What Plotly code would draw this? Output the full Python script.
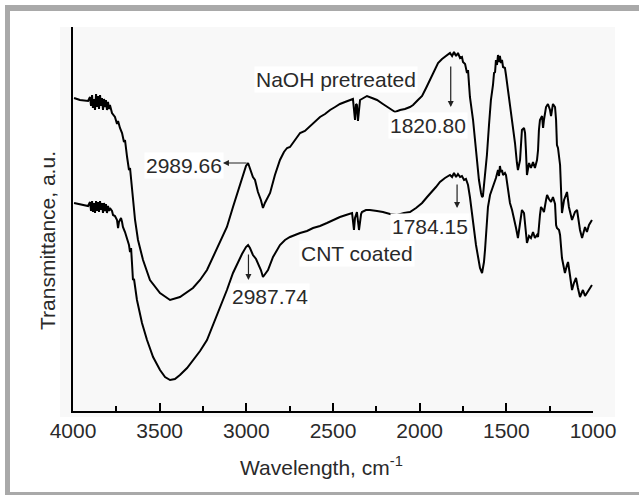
import plotly.graph_objects as go

W, H = 639, 495

# ---------------- data (wavenumber cm-1, transmittance a.u.) ----------------
naoh_wn = [3994, 3960, 3913, 3902, 3896, 3890, 3885, 3879, 3873, 3867, 3862, 3856, 3850,
           3844, 3838, 3833, 3827, 3821, 3815, 3810, 3804, 3798, 3792, 3787,
           3775, 3758, 3746, 3740, 3729, 3717, 3706, 3700, 3688, 3677, 3671, 3665, 3654,
           3642, 3625, 3596, 3556, 3498, 3440, 3383, 3308, 3267, 3227, 3192, 3152, 3112,
           3077, 3054, 3025, 3002, 2990, 2979, 2962, 2950, 2933, 2916, 2904, 2893, 2875,
           2863, 2835, 2806, 2783, 2765, 2748, 2731, 2708, 2690, 2662, 2633, 2615, 2575,
           2546, 2517, 2488, 2460, 2431, 2402, 2385, 2373, 2367, 2362, 2356, 2344, 2327,
           2304, 2275, 2246, 2212, 2188, 2165, 2142, 2113, 2085, 2056, 2038, 2010, 1986,
           1963, 1940, 1917, 1894, 1871, 1842, 1825, 1813, 1802, 1790, 1779, 1767, 1756,
           1750, 1738, 1727, 1721, 1715, 1710, 1692, 1681, 1669, 1658, 1646, 1640, 1635,
           1623, 1612, 1600, 1589, 1577, 1571, 1565, 1560, 1554, 1548, 1542, 1537, 1531,
           1525, 1519, 1508, 1502, 1490, 1479, 1467, 1462, 1450, 1439, 1433, 1421, 1415,
           1410, 1398, 1392, 1387, 1381, 1369, 1358, 1346, 1335, 1323, 1317, 1312, 1306,
           1294, 1288, 1283, 1271, 1260, 1248, 1242, 1231, 1219, 1213, 1208, 1202, 1190,
           1185, 1179, 1167, 1150, 1139, 1121, 1104, 1092, 1075, 1063, 1046, 1035, 1023,
           1006]
naoh_t = [313, 311, 310, 314, 305, 316, 303, 312, 301, 317, 304, 315, 302,
          316, 305, 313, 301, 312, 304, 311, 301, 309, 302, 306,
          298, 294, 287, 290, 283, 278, 269, 271, 254, 241, 243, 231, 211,
          191, 171, 151, 131, 118, 111, 114, 123, 131, 141, 154, 168, 184,
          204, 216, 233, 245, 248, 243, 234, 231, 219, 211, 203, 208, 214,
          218, 236, 251, 259, 263, 264, 268, 273, 278, 280, 285, 288, 294,
          297, 301, 304, 307, 309, 311, 312, 291, 307, 306, 290, 311, 313,
          315, 313, 311, 307, 304, 301, 299, 301, 302, 304, 306, 311, 315,
          323, 331, 340, 348, 352, 356, 358, 355, 359, 355, 358, 353, 354,
          349, 347, 338, 341, 326, 314, 291, 271, 254, 231, 218, 214, 215,
          233, 256, 286, 311, 326, 338, 339, 351, 346, 356, 349, 355, 348,
          351, 344, 343, 336, 321, 306, 294, 286, 268, 248, 241, 251, 271,
          281, 283, 278, 261, 236, 248, 243, 249, 243, 251, 261, 281, 291,
          295, 283, 291, 304, 307, 301, 295, 307, 304, 291, 266, 263, 246,
          228, 198, 211, 219, 204, 191, 199, 201, 181, 173, 184, 179, 186,
          191]

cnt_wn = [3994, 3960, 3913, 3902, 3896, 3890, 3885, 3879, 3873, 3867, 3862, 3856, 3850,
          3844, 3838, 3833, 3827, 3821, 3815, 3810, 3804, 3798, 3792, 3787,
          3775, 3769, 3758, 3746, 3740, 3735, 3723, 3717, 3712, 3700, 3688, 3677, 3671,
          3665, 3660, 3654, 3648, 3631, 3602, 3573, 3538, 3498, 3469, 3440, 3412, 3383,
          3342, 3308, 3267, 3227, 3192, 3152, 3112, 3077, 3048, 3025, 3002, 2990, 2979,
          2962, 2944, 2933, 2916, 2904, 2893, 2875, 2846, 2823, 2806, 2777, 2748, 2690,
          2650, 2615, 2575, 2535, 2500, 2460, 2425, 2390, 2379, 2373, 2362, 2350, 2338,
          2333, 2310, 2287, 2246, 2212, 2171, 2131, 2090, 2056, 2021, 1986, 1957, 1929,
          1906, 1883, 1854, 1825, 1813, 1802, 1790, 1779, 1767, 1756, 1744, 1733, 1721,
          1710, 1692, 1675, 1663, 1652, 1640, 1629, 1623, 1612, 1606, 1594, 1583, 1571,
          1565, 1560, 1554, 1548, 1542, 1537, 1531, 1525, 1519, 1508, 1502, 1490, 1479,
          1467, 1456, 1444, 1433, 1421, 1410, 1398, 1387, 1381, 1369, 1358, 1346, 1335,
          1323, 1317, 1306, 1300, 1288, 1283, 1271, 1265, 1254, 1242, 1231, 1219, 1213,
          1208, 1196, 1190, 1179, 1173, 1162, 1150, 1144, 1133, 1121, 1110, 1098, 1087,
          1075, 1063, 1058, 1046, 1035, 1023, 1012, 1006]
cnt_t = [208, 207, 205, 209, 200, 210, 199, 208, 198, 210, 200, 209, 199,
         210, 201, 208, 198, 208, 200, 207, 198, 205, 200, 203,
         200, 196, 195, 191, 183, 189, 193, 189, 184, 179, 173, 166, 159,
         163, 149, 131, 132, 111, 88, 71, 54, 41, 34, 31, 32, 36,
         43, 51, 60, 71, 86, 103, 121, 138, 149, 157, 164, 166, 163,
         156, 152, 148, 141, 134, 137, 141, 154, 161, 166, 171, 174, 178,
         180, 183, 185, 188, 191, 194, 196, 198, 181, 193, 199, 181, 197,
         199, 201, 201, 200, 199, 197, 196, 198, 199, 203, 208, 214, 219,
         224, 229, 233, 236, 234, 238, 234, 237, 234, 235, 231, 232, 226,
         214, 188, 166, 154, 143, 138, 149, 161, 186, 204, 216, 221, 226,
         229, 233, 237, 241, 235, 245, 239, 241, 236, 238, 236, 218, 208,
         201, 193, 183, 173, 189, 201, 198, 179, 168, 175, 173, 179, 173,
         176, 174, 196, 204, 201, 199, 211, 216, 212, 209, 214, 207, 186,
         183, 181, 176, 153, 146, 138, 146, 149, 136, 121, 128, 133, 123,
         114, 119, 121, 115, 118, 121, 124, 126]

x_ticks = [4000, 3500, 3000, 2500, 2000, 1500, 1000]
x_range = [4000, 1000]
y_range = [0, 384]

# labelled peaks
peak_labels = ["2989.66", "2987.74", "1820.80", "1784.15"]
series_names = ["NaOH pretreated", "CNT coated"]

FONT = "Liberation Sans, Arial, sans-serif"
TXT = "#2a2a2a"
FS = 21


def px(x):
    return x / W


def py(y):
    return 1 - y / H


fig = go.Figure()
fig.add_trace(go.Scatter(x=naoh_wn, y=naoh_t, mode="lines", name=series_names[0],
                         line=dict(color="black", width=2), showlegend=False))
fig.add_trace(go.Scatter(x=cnt_wn, y=cnt_t, mode="lines", name=series_names[1],
                         line=dict(color="black", width=2), showlegend=False))

fig.update_layout(
    width=W, height=H, autosize=False,
    margin=dict(l=0, r=0, t=0, b=0, pad=0),
    paper_bgcolor="white",
    plot_bgcolor="rgba(0,0,0,0)",
    showlegend=False,
    font=dict(family=FONT, size=FS, color=TXT),
    xaxis=dict(domain=[px(73), px(593)], range=x_range, tickvals=x_ticks,
               ticktext=[str(v) for v in x_ticks], automargin=False,
               showline=True, linecolor="black", linewidth=2,
               ticks="inside", ticklen=8, tickwidth=2, tickcolor="black",
               minor=dict(ticks="inside", ticklen=5, tickwidth=2, tickcolor="black",
                          dtick=250, showgrid=False),
               showgrid=False, zeroline=False,
               tickfont=dict(size=FS, color=TXT, family=FONT), ticklabelstandoff=0),
    yaxis=dict(domain=[py(411), py(27)], range=y_range, showline=True, automargin=False,
               linecolor="black", linewidth=2, showticklabels=False, ticks="",
               showgrid=False, zeroline=False),
)

# background panel and gray frame
fig.add_shape(type="rect", xref="paper", yref="paper", x0=px(60), x1=px(615),
              y0=py(417), y1=py(27), fillcolor="#f8f8f8", line=dict(width=0),
              layer="below")
for (x0, x1, y0, y1) in [(5, W, 5, 11), (5, 10, 5, H), (5, W, 492, H)]:
    fig.add_shape(type="rect", xref="paper", yref="paper", x0=px(x0), x1=px(x1),
                  y0=py(y1), y1=py(y0), fillcolor="#a9a9a9", line=dict(width=0),
                  layer="above")

ann = []
# axis titles
ann.append(dict(text="Wavelength, cm<sup>-1</sup>", xref="paper", yref="paper",
                x=px(322), y=py(466), xanchor="center", yanchor="middle",
                showarrow=False, font=dict(size=FS, color=TXT)))
ann.append(dict(text="Transmittance, a.u.", xref="paper", yref="paper",
                x=px(47), y=py(241), xanchor="center", yanchor="middle",
                showarrow=False, textangle=-90, font=dict(size=FS, color=TXT)))
# series labels
ann.append(dict(text=series_names[0], x=2483, y=332, showarrow=False,
                bgcolor="white", font=dict(size=FS, color=TXT)))
ann.append(dict(text=series_names[1], x=2362, y=158, showarrow=False,
                bgcolor="white", font=dict(size=FS, color=TXT)))
# peak value texts
ann.append(dict(text=peak_labels[0], x=3357, y=246, showarrow=False,
                bgcolor="white", font=dict(size=FS, color=TXT)))
ann.append(dict(text=peak_labels[1], x=2864, y=115, showarrow=False,
                bgcolor="white", font=dict(size=FS, color=TXT)))
ann.append(dict(text=peak_labels[2], x=1952, y=286, showarrow=False,
                bgcolor="white", font=dict(size=FS, color=TXT)))
ann.append(dict(text=peak_labels[3], x=1940, y=185, showarrow=False,
                bgcolor="white", font=dict(size=FS, color=TXT)))
# arrows
ARW = dict(showarrow=True, arrowhead=2, arrowsize=1, arrowwidth=1.2,
           arrowcolor="#222", text="", axref="x", ayref="y")
ann.append(dict(x=3135, y=248, ax=float(peak_labels[0]), ay=248, **ARW))
ann.append(dict(x=float(peak_labels[1]), y=131, ax=float(peak_labels[1]), ay=158, **ARW))
ann.append(dict(x=float(peak_labels[2]), y=304, ax=float(peak_labels[2]), ay=346, **ARW))
ann.append(dict(x=float(peak_labels[3]), y=203, ax=float(peak_labels[3]), ay=228, **ARW))
fig.update_layout(annotations=ann)

fig.write_html("out.html")
